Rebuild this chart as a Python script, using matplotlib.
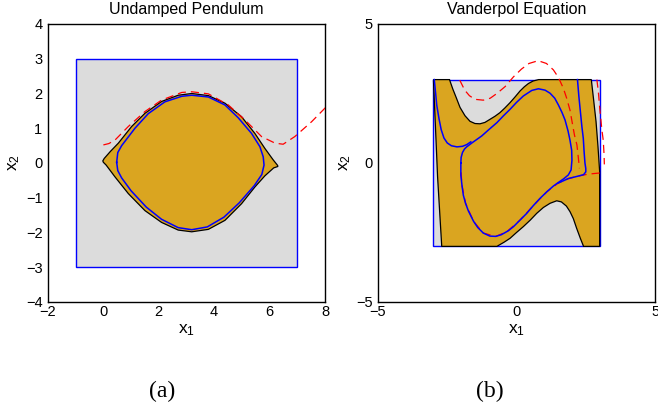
import numpy as np
import matplotlib.pyplot as plt
from matplotlib.patches import Polygon, Rectangle

plt.rcParams['font.family'] = ['Liberation Sans', 'DejaVu Sans']

GOLD = '#daa520'
GRAY = '#dcdcdc'

# ---- (a) undamped pendulum ----
pend_box = (-1, -3, 8, 6)  # x0, y0, width, height
pend_upper_x = [-0.02, 0.03, 0.25, 0.54, 1.02, 1.50, 2.10, 2.70, 3.19, 3.79, 4.39, 4.99, 5.47, 5.83, 6.13, 6.29]
pend_upper_y = [0.06, 0.13, 0.33, 0.57, 1.05, 1.43, 1.77, 1.95, 2.00, 1.94, 1.72, 1.33, 0.85, 0.42, 0.09, -0.07]
pend_lower_x = [6.30, 6.15, 5.83, 5.47, 4.99, 4.39, 3.79, 3.19, 2.70, 2.10, 1.50, 0.90, 0.42, 0.10, 0.0]
pend_lower_y = [-0.10, -0.14, -0.37, -0.69, -1.17, -1.65, -1.91, -1.98, -1.93, -1.71, -1.37, -0.88, -0.40, -0.06, 0.02]
pend_orbit_x = [0.48, 0.52, 0.66, 1.14, 1.62, 2.22, 2.83, 3.19, 3.79, 4.39, 4.87, 5.35, 5.65, 5.77, 5.80,
                5.72, 5.45, 4.90, 4.35, 3.75, 3.19, 2.70, 2.10, 1.55, 1.00, 0.66, 0.52, 0.48]
pend_orbit_y = [0.02, 0.30, 0.50, 1.00, 1.42, 1.76, 1.92, 1.95, 1.90, 1.67, 1.30, 0.85, 0.47, 0.18, -0.06,
                -0.33, -0.65, -1.15, -1.56, -1.84, -1.92, -1.86, -1.62, -1.27, -0.80, -0.43, -0.22, 0.02]
pend_traj_x = [0.00, 0.20, 0.42, 0.90, 1.50, 2.10, 2.83, 3.19, 3.79, 4.51, 5.11, 5.71, 6.20, 6.49, 6.91, 7.52, 8.05]
pend_traj_y = [0.52, 0.56, 0.66, 1.05, 1.48, 1.81, 2.03, 2.05, 1.99, 1.67, 1.24, 0.76, 0.57, 0.54, 0.76, 1.19, 1.62]

# ---- (b) Van der Pol ----
vdp_box = (-3, -3, 6, 6)
vdp_gold_x = [-3.0, -2.42, -2.30, -2.18, -2.04, -1.86, -1.68, -1.50, -1.32, -1.14, -0.96, -0.78, -0.60, -0.42,
              -0.235, -0.05, 0.126, 0.28, 0.43, 0.60, 0.80, 2.70, 2.78, 2.87, 2.94, 2.98, 3.0, 3.0,
              2.42, 2.30, 2.17, 2.05, 1.93, 1.80, 1.62, 1.45, 1.21, 0.97, 0.73, 0.50, 0.245, 0.0, -0.235,
              -0.45, -0.71, -2.70, -2.85]
vdp_gold_y = [3.0, 3.0, 2.66, 2.36, 2.00, 1.70, 1.50, 1.42, 1.41, 1.46, 1.57, 1.68, 1.81, 1.98,
              2.17, 2.38, 2.59, 2.74, 2.86, 2.95, 3.0, 3.0, 2.30, 1.49, 0.60, 0.0, -0.30, -3.0,
              -3.0, -2.70, -2.35, -2.00, -1.75, -1.55, -1.40, -1.36, -1.45, -1.60, -1.81, -2.05, -2.29, -2.50, -2.71,
              -2.85, -3.0, -3.0, -0.50]
vdp_loop_x = [-2.01, -2.00, -1.95, -1.88, -1.80, -1.60, -1.26, -1.00, -0.71, -0.47, -0.235, 0.0, 0.245, 0.55,
              0.79, 1.03, 1.21, 1.38, 1.51, 1.64, 1.75, 1.86, 1.93, 1.99, 2.00, 1.97, 1.87, 1.70, 1.51,
              1.33, 1.10, 0.85, 0.60, 0.37, 0.12, -0.11, -0.30, -0.55, -0.75, -0.96, -1.20, -1.40, -1.55,
              -1.74, -1.84, -1.92, -1.97, -2.01, -2.01]
vdp_loop_y = [0.0, 0.20, 0.38, 0.50, 0.58, 0.73, 0.97, 1.20, 1.45, 1.70, 1.93, 2.18, 2.41, 2.61,
              2.67, 2.62, 2.51, 2.33, 2.09, 1.82, 1.55, 1.15, 0.82, 0.46, 0.10, -0.25, -0.43, -0.57, -0.70,
              -0.83, -1.03, -1.27, -1.54, -1.81, -2.06, -2.29, -2.44, -2.58, -2.64, -2.63, -2.52, -2.32, -2.10,
              -1.72, -1.45, -1.16, -0.80, -0.44, 0.0]
vdp_tail_x = [-2.97, -2.92, -2.88, -2.80, -2.72, -2.62, -2.50, -2.35, -2.15, -1.95, -1.80, -1.65]
vdp_tail_y = [3.0, 2.50, 2.08, 1.60, 1.20, 0.90, 0.72, 0.62, 0.58, 0.60, 0.66, 0.76]
vdp_right_x = [2.20, 2.25, 2.30, 2.36, 2.41, 2.44, 2.47, 2.50, 2.50, 2.42, 2.23, 1.87, 1.51]
vdp_right_y = [3.0, 2.40, 1.90, 1.30, 0.89, 0.40, 0.0, -0.20, -0.32, -0.42, -0.47, -0.56, -0.72]
vdp_traj1_x = [-2.05, -1.87, -1.70, -1.50, -1.20, -0.95, -0.71, -0.41, -0.11, 0.18, 0.45, 0.78, 1.08, 1.33,
               1.51, 1.69, 1.81, 1.93, 2.09, 2.18, 2.23, 2.27]
vdp_traj1_y = [2.98, 2.62, 2.42, 2.29, 2.26, 2.33, 2.50, 2.75, 3.10, 3.38, 3.58, 3.68, 3.58, 3.35,
               3.08, 2.69, 2.33, 1.90, 1.01, 0.65, 0.20, -0.19]
vdp_traj2_x = [2.90, 2.95, 3.01, 3.08, 3.13, 3.16, 3.17]
vdp_traj2_y = [3.0, 2.60, 1.90, 1.20, 0.82, 0.30, -0.05]
vdp_traj3_x = [3.0, 2.59, 2.23, 1.87, 1.51, 1.10, 0.60, 0.12, -0.35, -0.75, -1.20, -1.55, -1.84, -1.97, -2.01]
vdp_traj3_y = [-0.36, -0.40, -0.47, -0.56, -0.72, -1.03, -1.54, -2.06, -2.47, -2.64, -2.52, -2.10, -1.45, -0.80, -0.20]


def dashed(ax, x, y):
    ax.plot(x, y, color='red', lw=0.9, dashes=(6.5, 4), zorder=3)


def style_axes(ax, title):
    ax.set_title(title, fontsize=11.5, pad=7)
    ax.set_xlabel(r'$\mathregular{x_1}$', fontsize=12.5, labelpad=0)
    ax.set_ylabel(r'$\mathregular{x_2}$', fontsize=12.5, labelpad=0)
    ax.tick_params(length=0, labelsize=10.5)
    ax.tick_params(axis='y', pad=4)
    ax.tick_params(axis='x', pad=2)
    for s in ax.spines.values():
        s.set_linewidth(1.0)
    ax.xaxis.set_label_coords(0.5, -0.072)
    ax.yaxis.set_label_coords(-0.092, 0.5)


fig = plt.figure(figsize=(6.58, 4.04), dpi=100)
ax1 = fig.add_axes([0.0729, 0.2525, 0.4210, 0.6881])
ax2 = fig.add_axes([0.5745, 0.2525, 0.4210, 0.6881])

# (a)
ax1.add_patch(Rectangle(pend_box[:2], pend_box[2], pend_box[3], facecolor=GRAY, edgecolor='blue', lw=1.0))
gx = np.concatenate([pend_upper_x, pend_lower_x])
gy = np.concatenate([pend_upper_y, pend_lower_y])
ax1.add_patch(Polygon(np.column_stack([gx, gy]), closed=True, facecolor=GOLD, edgecolor='black', lw=0.9))
ax1.plot(pend_orbit_x, pend_orbit_y, color='blue', lw=1.1, zorder=4)
dashed(ax1, pend_traj_x, pend_traj_y)
ax1.set_xlim(-2, 8)
ax1.set_ylim(-4, 4)
ax1.set_xticks(np.arange(-2, 9, 2))
ax1.set_yticks(np.arange(-4, 5, 1))
style_axes(ax1, 'Undamped Pendulum')

# (b)
ax2.add_patch(Rectangle(vdp_box[:2], vdp_box[2], vdp_box[3], facecolor=GRAY, edgecolor='blue', lw=1.0))
ax2.add_patch(Polygon(np.column_stack([vdp_gold_x, vdp_gold_y]), closed=True,
                      facecolor=GOLD, edgecolor='black', lw=0.9))
dashed(ax2, vdp_traj1_x, vdp_traj1_y)
dashed(ax2, vdp_traj2_x, vdp_traj2_y)
dashed(ax2, vdp_traj3_x, vdp_traj3_y)
ax2.plot(vdp_loop_x, vdp_loop_y, color='blue', lw=1.1, zorder=4)
ax2.plot(vdp_tail_x, vdp_tail_y, color='blue', lw=1.1, zorder=4)
ax2.plot(vdp_right_x, vdp_right_y, color='blue', lw=1.1, zorder=4)
ax2.set_xlim(-5, 5)
ax2.set_ylim(-5, 5)
ax2.set_xticks([-5, 0, 5])
ax2.set_yticks([-5, 0, 5])
style_axes(ax2, 'Vanderpol Equation')

fig.text(162 / 658, 7 / 404, '(a)', family='Liberation Serif', fontsize=17, ha='center', va='baseline')
fig.text(490 / 658, 7 / 404, '(b)', family='Liberation Serif', fontsize=17, ha='center', va='baseline')

fig.savefig('out.png', dpi=100)
